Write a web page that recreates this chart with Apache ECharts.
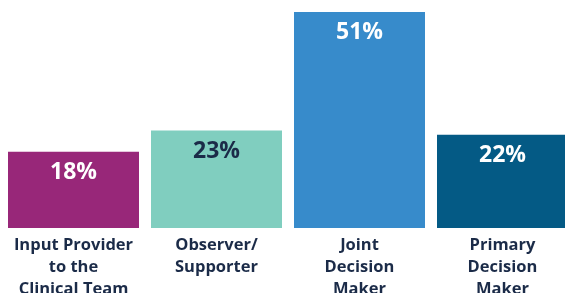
<!DOCTYPE html>
<html><head><meta charset="utf-8">
<script src="https://cdn.jsdelivr.net/npm/echarts@6/dist/echarts.min.js"></script>
<style>html,body{margin:0;padding:0;background:#fff}#c{width:565px;height:293px}</style>
</head><body><div id="c"></div>
<script>
const categories = ['Input Provider\nto the\nClinical Team', 'Observer/\nSupporter', 'Joint\nDecision\nMaker', 'Primary\nDecision\nMaker'];
const values = [18, 23, 51, 22];
const barColors = ['#982779', '#80CEBF', '#378BCB', '#045A85'];
const labelColors = ['#ffffff', '#1B2B48', '#ffffff', '#ffffff'];

const chart = echarts.init(document.getElementById('c'));
chart.setOption({
  animation: false,
  grid: { left: 2, top: 12, width: 572, height: 216, outerBoundsMode: 'none', containLabel: false },
  xAxis: {
    type: 'category', data: categories,
    axisLine: { show: false }, axisTick: { show: false },
    axisLabel: { color: '#1B2B48', fontFamily: 'Open Sans', fontWeight: 'bold', fontSize: 16.5, lineHeight: 22, margin: 6, interval: 0 }
  },
  yAxis: { type: 'value', min: 0, max: 51, show: false, splitLine: { show: false } },
  series: [{
    type: 'bar', barWidth: 131,
    data: values.map((v, i) => ({
      value: v,
      itemStyle: { color: barColors[i] },
      label: { color: labelColors[i] }
    })),
    label: {
      show: true, position: 'insideTop', distance: 9,
      formatter: '{c}%', fontFamily: 'Open Sans', fontWeight: 'bold', fontSize: 23
    }
  }]
});
</script></body></html>
